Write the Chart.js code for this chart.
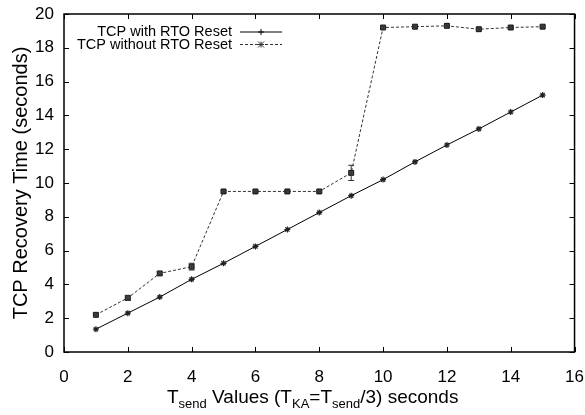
<!DOCTYPE html>
<html>
<head>
<meta charset="utf-8">
<script src="https://cdn.jsdelivr.net/npm/chart.js@4/dist/chart.umd.min.js"></script>
<style>
  html, body { margin: 0; padding: 0; background: #fff; }
  #wrap { width: 585px; height: 415px; position: relative; }
</style>
</head>
<body>
<div id="wrap"><canvas id="chart"></canvas></div>
<script>
// Tsend values (x) and recovery times (y)
const tsend = [1, 2, 3, 4, 5, 6, 7, 8, 9, 10, 11, 12, 13, 14, 15];
const withReset = [1.35, 2.3, 3.25, 4.3, 5.25, 6.25, 7.25, 8.25, 9.25, 10.2, 11.25, 12.25, 13.2, 14.2, 15.2];
const withoutReset = [2.2, 3.2, 4.65, 5.05, 9.5, 9.5, 9.5, 9.5, 10.6, 19.2, 19.25, 19.3, 19.1, 19.2, 19.25];
const withoutErr = [0.1, 0.15, 0.1, 0.2, 0.05, 0.05, 0.05, 0.05, 0.45, 0.1, 0.05, 0.05, 0.05, 0.05, 0.05];
const xTicks = [0, 2, 4, 6, 8, 10, 12, 14, 16];
const yTicks = [0, 2, 4, 6, 8, 10, 12, 14, 16, 18, 20];
const legendLabels = ['TCP with RTO Reset', 'TCP without RTO Reset'];

const FONT = '"Liberation Sans", Arial, sans-serif';

const toPts = (ys) => tsend.map((x, i) => ({ x: x, y: ys[i] }));

// gnuplot-like frame, inward ticks, error bars, legend and x title
const gnuFrame = {
  id: 'gnuFrame',
  afterDatasetsDraw(chart) {
    const { ctx, chartArea: a, scales } = chart;
    const xs = scales.x, ys = scales.y;
    ctx.save();

    // error bars for the dashed series
    ctx.strokeStyle = '#333';
    ctx.lineWidth = 1;
    withoutReset.forEach((v, i) => {
      const px = xs.getPixelForValue(tsend[i]);
      const top = ys.getPixelForValue(v + withoutErr[i]);
      const bot = ys.getPixelForValue(v - withoutErr[i]);
      ctx.beginPath();
      ctx.moveTo(px, top); ctx.lineTo(px, bot);
      ctx.moveTo(px - 3, top); ctx.lineTo(px + 3, top);
      ctx.moveTo(px - 3, bot); ctx.lineTo(px + 3, bot);
      ctx.stroke();
    });

    // frame
    ctx.strokeStyle = '#000';
    ctx.lineWidth = 1.5;
    ctx.strokeRect(a.left, a.top, a.right - a.left, a.bottom - a.top);

    // inward ticks on all sides
    ctx.lineWidth = 1;
    ctx.beginPath();
    xTicks.forEach(t => {
      const px = Math.round(xs.getPixelForValue(t)) + 0.5;
      ctx.moveTo(px, a.bottom); ctx.lineTo(px, a.bottom - 5);
      ctx.moveTo(px, a.top); ctx.lineTo(px, a.top + 5);
    });
    yTicks.forEach(t => {
      const py = Math.round(ys.getPixelForValue(t)) + 0.5;
      ctx.moveTo(a.left, py); ctx.lineTo(a.left + 5, py);
      ctx.moveTo(a.right, py); ctx.lineTo(a.right - 5, py);
    });
    ctx.stroke();

    // legend, right-aligned text with line sample
    ctx.font = '14.5px ' + FONT;
    ctx.fillStyle = '#000';
    ctx.textAlign = 'right';
    ctx.textBaseline = 'middle';
    const textRight = 232;
    const sampleL = 240, sampleR = 282;
    [0, 1].forEach(i => {
      const y = a.top + 18 + i * 12.5;
      ctx.fillText(legendLabels[i], textRight, y);
      ctx.beginPath();
      ctx.strokeStyle = i === 0 ? '#000' : '#333';
      ctx.setLineDash(i === 0 ? [] : [3, 2]);
      ctx.moveTo(sampleL, y); ctx.lineTo(sampleR, y);
      ctx.stroke();
      ctx.setLineDash([]);
      const mx = (sampleL + sampleR) / 2;
      ctx.beginPath();
      ctx.moveTo(mx, y - 3); ctx.lineTo(mx, y + 3);
      ctx.moveTo(mx - 3, y); ctx.lineTo(mx + 3, y);
      if (i === 1) {
        ctx.moveTo(mx - 3, y - 3); ctx.lineTo(mx + 3, y + 3);
        ctx.moveTo(mx - 3, y + 3); ctx.lineTo(mx + 3, y - 3);
      }
      ctx.stroke();
    });

    // x axis title with subscripts
    const parts = [
      ['T', 0], ['send', 1], [' Values (T', 0], ['KA', 1], ['=T', 0], ['send', 1], ['/3) seconds', 0]
    ];
    const big = '19px ' + FONT, small = '13px ' + FONT;
    let x = 167;
    const base = 403;
    ctx.textAlign = 'left';
    ctx.textBaseline = 'alphabetic';
    parts.forEach(p => {
      ctx.font = p[1] ? small : big;
      ctx.fillText(p[0], x, base + (p[1] ? 5 : 0));
      x += ctx.measureText(p[0]).width;
    });
    ctx.restore();
  }
};

// transparent tick marks only reserve room between axis and labels
const hiddenGrid = (len) => ({
  display: true,
  drawOnChartArea: false,
  drawTicks: true,
  tickLength: len,
  color: 'rgba(0,0,0,0)'
});

new Chart(document.getElementById('chart'), {
  type: 'line',
  data: {
    datasets: [
      {
        label: legendLabels[0],
        data: toPts(withReset),
        borderColor: '#000',
        borderWidth: 1,
        pointStyle: 'star',
        pointRadius: 3,
        pointBorderColor: '#222',
        pointBorderWidth: 1.2,
        tension: 0
      },
      {
        label: legendLabels[1],
        data: toPts(withoutReset),
        borderColor: '#333',
        borderWidth: 1,
        borderDash: [3, 2],
        pointStyle: 'rect',
        pointRadius: 3.5,
        pointBackgroundColor: '#444',
        pointBorderColor: '#111',
        pointBorderWidth: 1,
        tension: 0
      }
    ]
  },
  options: {
    responsive: true,
    maintainAspectRatio: false,
    animation: false,
    layout: { padding: { left: 0, right: 10, top: 14, bottom: 0 } },
    plugins: {
      legend: { display: false },
      tooltip: { enabled: false }
    },
    scales: {
      x: {
        type: 'linear',
        min: 0,
        max: 16,
        grid: hiddenGrid(14),
        border: { display: false },
        afterFit: (s) => { s.height = 63; },
        afterBuildTicks: (s) => { s.ticks = xTicks.map(v => ({ value: v })); },
        ticks: { color: '#000', padding: 1, font: { family: FONT, size: 17 } }
      },
      y: {
        min: 0,
        max: 20,
        grid: hiddenGrid(10),
        border: { display: false },
        afterFit: (s) => { s.width = 64; },
        afterBuildTicks: (s) => { s.ticks = yTicks.map(v => ({ value: v })); },
        ticks: { color: '#000', padding: 0, font: { family: FONT, size: 17 } },
        title: {
          display: true,
          text: 'TCP Recovery Time (seconds)',
          color: '#000',
          padding: { top: 9, bottom: 0 },
          font: { family: FONT, size: 20 }
        }
      }
    }
  },
  plugins: [gnuFrame]
});
</script>
</body>
</html>
